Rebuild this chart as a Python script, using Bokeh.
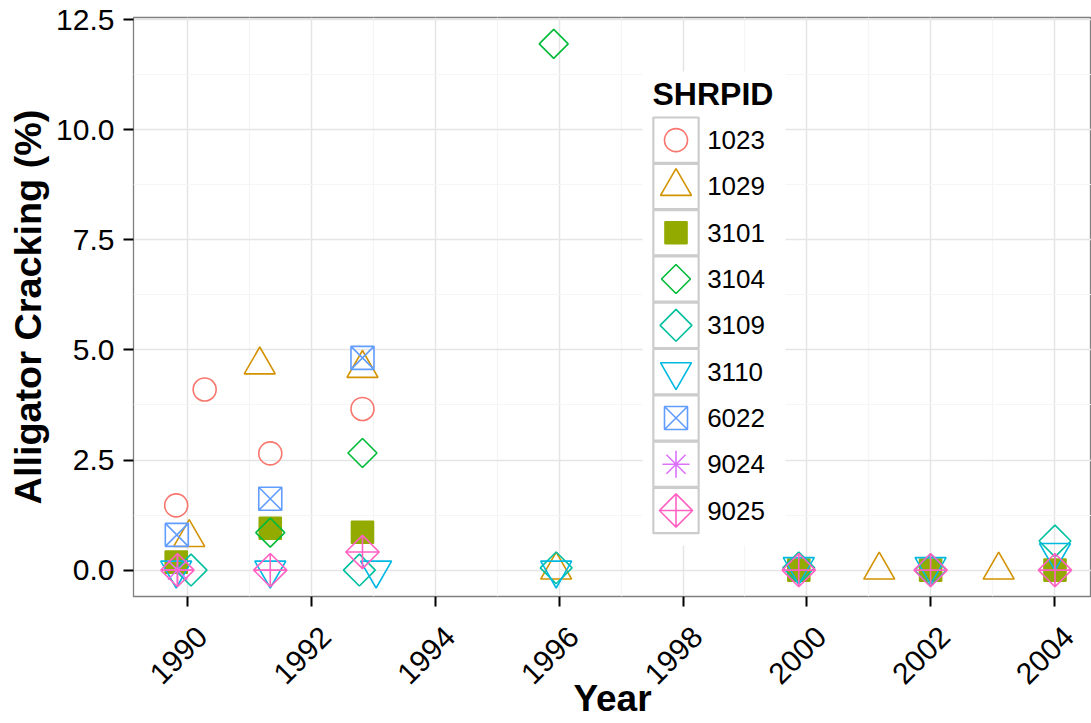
from math import pi
from bokeh.plotting import figure
from bokeh.models import Range1d, FixedTicker, PrintfTickFormatter
from bokeh.embed import file_html
from bokeh.resources import INLINE
from bokeh.core.properties import value

# ---------------- data ----------------
shrp_ids = ["1023", "1029", "3101", "3104", "3109", "3110", "6022", "9024", "9025"]

years_1023 = [1989.81, 1990.27, 1991.33, 1992.82]
crack_1023 = [1.47, 4.10, 2.65, 3.66]

years_1029 = [1990.02, 1991.16, 1992.82, 1995.95, 2001.17, 2003.10]
crack_1029 = [0.74, 4.66, 4.58, 0.0, 0.0, 0.0]

years_3101 = [1989.81, 1991.33, 1992.82, 1999.87, 2002.00, 2004.01]
crack_3101 = [0.18, 0.95, 0.86, 0.0, 0.0, 0.0]

years_3104 = [1991.33, 1992.82, 1995.91]
crack_3104 = [0.85, 2.66, 11.95]

years_3109 = [1990.05, 1992.77, 1995.95, 1999.87, 2002.00, 2004.01]
crack_3109 = [0.0, 0.0, 0.05, 0.05, 0.0, 0.66]

years_3110 = [1989.81, 1991.33, 1993.04, 1995.95, 1999.87, 2002.00, 2004.01]
crack_3110 = [0.0, 0.0, 0.0, 0.0, 0.08, 0.08, 0.40]

years_6022 = [1989.82, 1991.33, 1992.82]
crack_6022 = [0.80, 1.62, 4.82]

years_9024 = [1989.83]
crack_9024 = [0.0]

years_9025 = [1989.83, 1991.33, 1992.82, 1999.87, 2002.00, 2004.01]
crack_9025 = [0.0, 0.0, 0.41, 0.0, 0.0, 0.0]

series_years = [years_1023, years_1029, years_3101, years_3104, years_3109,
                years_3110, years_6022, years_9024, years_9025]
series_crack = [crack_1023, crack_1029, crack_3101, crack_3104, crack_3109,
                crack_3110, crack_6022, crack_9024, crack_9025]

x_ticks = [1990, 1992, 1994, 1996, 1998, 2000, 2002, 2004]
x_minor = [1991, 1993, 1995, 1997, 1999, 2001, 2003]
y_ticks = [0.0, 2.5, 5.0, 7.5, 10.0, 12.5]
y_minor = [1.25, 3.75, 6.25, 8.75, 11.25]

# ---------------- styles ----------------
colors = ["#F8766D", "#D39200", "#93AA00", "#00BA38", "#00C19F",
          "#00B9E3", "#619CFF", "#DB72FB", "#FF61C3"]
markers = ["circle", "triangle", "square", "square", "square",
           "inverted_triangle", "square_x", "asterisk", "square_x"]
sizes = [23, 31, 22, 20.5, 22.5, 31, 23, 27, 23.5]
angles = [0, 0, 0, pi / 4, pi / 4, 0, 0, 0, pi / 4]
filled = [False, False, True, False, False, False, False, False, False]

FONT = "Liberation Sans"
W, H = 1091, 723
ML, MR, MT, MB = 133, 0, 17, 127
FW, FH = W - ML - MR, H - MT - MB

p = figure(width=W, height=H, output_backend="svg", toolbar_location=None,
           x_range=Range1d(1989.12, 2004.60), y_range=Range1d(-0.6, 12.55),
           min_border_left=ML, min_border_right=MR, min_border_top=MT,
           min_border_bottom=MB)
p.background_fill_color = "white"
p.border_fill_color = "white"
p.outline_line_color = "#7F7F7F"
p.outline_line_width = 1.3

# axes
p.xaxis.ticker = FixedTicker(ticks=x_ticks, minor_ticks=x_minor)
p.yaxis.ticker = FixedTicker(ticks=y_ticks, minor_ticks=y_minor)
p.yaxis.formatter = PrintfTickFormatter(format="%.1f")
# leading blank line: the rotated label hangs from its top-right corner (as in ggplot)
p.xaxis.major_label_overrides = {t: "\n" + str(t) for t in x_ticks}
for ax in (p.xaxis, p.yaxis):
    ax.axis_line_color = None
    ax.major_tick_line_color = "black"
    ax.major_tick_line_width = 2
    ax.major_tick_in = 0
    ax.major_tick_out = 10
    ax.minor_tick_line_color = None
    ax.major_label_text_font = FONT
    ax.major_label_text_font_size = "30px"
    ax.major_label_text_color = "black"
    ax.axis_label_text_font = FONT
    ax.axis_label_text_font_style = "bold"
    ax.axis_label_text_color = "black"
p.xaxis.axis_label_text_font_size = "37px"
p.yaxis.axis_label_text_font_size = "37.8px"
p.xaxis.axis_label = "Year"
p.yaxis.axis_label = "Alligator Cracking (%)"
p.xaxis.major_label_orientation = pi / 4
p.xaxis.major_label_standoff = 11
p.xaxis.axis_label_standoff = -41
p.yaxis.major_label_standoff = 9
p.yaxis.axis_label_standoff = 4

# grids
for g in (p.xgrid, p.ygrid):
    g.grid_line_color = "#E5E5E5"
    g.grid_line_width = 1.5
    g.minor_grid_line_color = "#F5F5F5"
    g.minor_grid_line_width = 1.2

# data points
for ys, vs, c, m, s, a, f in zip(series_years, series_crack, colors, markers,
                                  sizes, angles, filled):
    p.scatter(x=ys, y=vs, marker=m, size=s, angle=a, line_color=c,
              fill_color=c if f else None, line_width=1.6)

# ---------------- legend (pixel coordinates inside the frame) ----------------
p.extra_x_ranges = {"px": Range1d(0, FW)}
p.extra_y_ranges = {"px": Range1d(FH, 0)}
LX0, LX1, LY0, LY1 = 509, 652, 54, 528
KEY = 46.3
KEY_X = 542.5
KEY_Y0 = 99.5 + KEY / 2
key_y = [KEY_Y0 + i * KEY for i in range(len(shrp_ids))]
key_x = [KEY_X] * len(shrp_ids)

p.quad(left=LX0, right=LX1, bottom=LY0, top=LY1, fill_color="white",
       line_color=None, x_range_name="px", y_range_name="px")
p.rect(x=key_x, y=key_y, width=KEY - 1, height=KEY - 1, fill_color="white",
       line_color="#CCCCCC", line_width=2.2, x_range_name="px", y_range_name="px")
for i in range(len(shrp_ids)):
    p.scatter(x=[key_x[i]], y=[key_y[i]], marker=markers[i], size=sizes[i],
              angle=angles[i], line_color=colors[i],
              fill_color=colors[i] if filled[i] else None, line_width=1.6,
              x_range_name="px", y_range_name="px")
p.text(x=[KEY_X + KEY / 2 + 8] * len(shrp_ids), y=key_y, text=shrp_ids,
       text_font=value(FONT), text_font_size="26px", text_baseline="middle",
       text_align="left", text_color="black", x_range_name="px", y_range_name="px")
p.text(x=[LX0 + 10], y=[76], text=["SHRPID"], text_font=value(FONT),
       text_font_size="32px", text_font_style="bold", text_baseline="middle",
       text_align="left", text_color="black", x_range_name="px", y_range_name="px")

open("out.html", "w").write(file_html(p, INLINE))
